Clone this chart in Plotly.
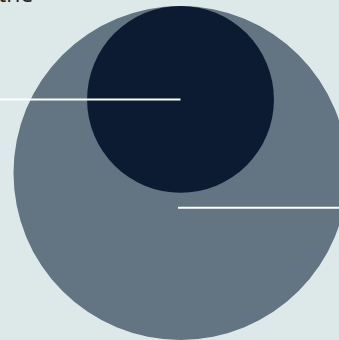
import math
import plotly.graph_objects as go

# ---- data ----
categories = ["Total", "Subset"]
values = [100.0, 31.3]
colors = ["#637482", "#0c1a32"]
label_text = "the"

# ---- layout constants ----
W, H = 339, 340
BG = "#dde8e8"
scale = 16.7          # px per sqrt(unit)
top_y = 6             # shared tangent point at top
cx = 180.5

fig = go.Figure()

shapes = []
radii = [scale * math.sqrt(v) for v in values]
centers = []
for cat, r, col in zip(categories, radii, colors):
    cy = top_y + r
    centers.append(cy)
    shapes.append(dict(type="circle", xref="x", yref="y",
                       x0=cx - r, x1=cx + r, y0=cy - r, y1=cy + r,
                       fillcolor=col, line=dict(width=0), layer="above"))

# leader lines
big_r, small_r = radii
small_cy = centers[1]
small_bottom = top_y + 2 * small_r
shapes.append(dict(type="line", xref="x", yref="y",
                   x0=-20, x1=cx, y0=small_cy, y1=small_cy,
                   line=dict(color="white", width=2), layer="above"))
shapes.append(dict(type="line", xref="x", yref="y",
                   x0=cx - 2.5, x1=W + 20, y0=small_bottom + 15, y1=small_bottom + 15,
                   line=dict(color="white", width=2), layer="above"))

fig.add_trace(go.Scatter(x=[cx], y=[centers[0]], mode="markers",
                         marker=dict(opacity=0), hoverinfo="skip", showlegend=False))

fig.add_annotation(text=label_text, xref="paper", yref="y", x=0, y=11,
                   xanchor="left", yanchor="bottom", showarrow=False,
                   xshift=-4, font=dict(family="Open Sans", size=23, color="#222"))

fig.update_layout(
    width=W, height=H, margin=dict(l=0, r=0, t=0, b=0),
    paper_bgcolor=BG, plot_bgcolor=BG, shapes=shapes, showlegend=False,
    xaxis=dict(range=[0, W], visible=False, fixedrange=True),
    yaxis=dict(range=[H, 0], visible=False, fixedrange=True),
)

fig.write_html("out.html", config={"displayModeBar": False},
               post_script="document.body.style.margin='0';document.body.style.overflow='hidden';")
